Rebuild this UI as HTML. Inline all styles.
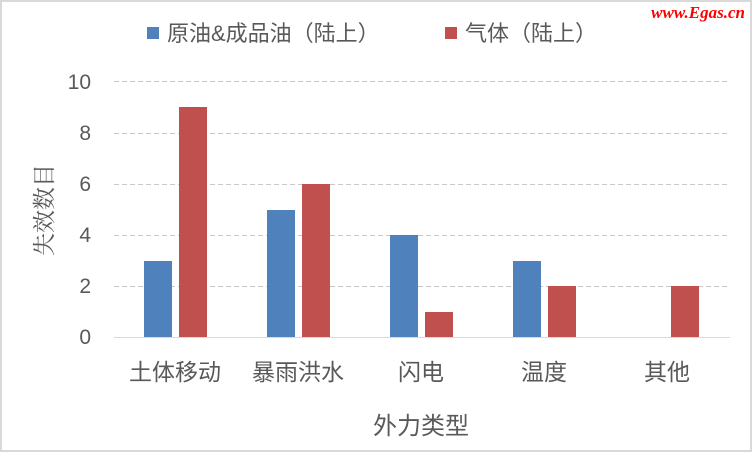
<!DOCTYPE html>
<html><head><meta charset="utf-8"><style>
body{margin:0;background:#fff}
svg text{font-family:"Liberation Sans","Noto Sans CJK SC",sans-serif}
</style></head><body>
<svg width="752" height="452" viewBox="0 0 752 452" xmlns="http://www.w3.org/2000/svg">
<rect x="1" y="1" width="750" height="450" fill="#fff" stroke="#d9d9d9" stroke-width="2"/>
<text x="745" y="18" text-anchor="end" font-size="17" font-style="italic" font-weight="bold" fill="#f00" style="font-family:'Liberation Serif',serif">www.Egas.cn</text>
<rect x="147" y="27" width="12" height="12" fill="#4f81bd"/>
<text x="167" y="41" font-size="22" fill="#595959">原油&amp;成品油（陆上）</text>
<rect x="445" y="27" width="12" height="12" fill="#c0504d"/>
<text x="465" y="41" font-size="22" fill="#595959">气体（陆上）</text>
<g stroke="#c8c8c8" stroke-dasharray="5,3" stroke-width="1">
<line x1="114" x2="730" y1="81.5" y2="81.5"/><line x1="114" x2="730" y1="133.5" y2="133.5"/>
<line x1="114" x2="730" y1="184.5" y2="184.5"/><line x1="114" x2="730" y1="235.5" y2="235.5"/>
<line x1="114" x2="730" y1="286.5" y2="286.5"/></g>
<line x1="114" x2="730" y1="337.5" y2="337.5" stroke="#d9d9d9"/>
<g font-size="21" fill="#595959" text-anchor="end">
<text x="91" y="89">10</text><text x="91" y="140">8</text><text x="91" y="191">6</text>
<text x="91" y="242">4</text><text x="91" y="293">2</text><text x="91" y="344">0</text></g>
<g fill="#4f81bd">
<rect x="144" y="261" width="28" height="76"/><rect x="267" y="210" width="28" height="127"/>
<rect x="390" y="235" width="28" height="102"/><rect x="513" y="261" width="28" height="76"/></g>
<g fill="#c0504d">
<rect x="179" y="107" width="28" height="230"/><rect x="302" y="184" width="28" height="153"/>
<rect x="425" y="312" width="28" height="25"/><rect x="548" y="286" width="28" height="51"/>
<rect x="671" y="286" width="28" height="51"/></g>
<g font-size="23" fill="#595959" text-anchor="middle">
<text x="175" y="380">土体移动</text><text x="298" y="380">暴雨洪水</text>
<text x="421" y="380">闪电</text><text x="544" y="380">温度</text><text x="667" y="380">其他</text>
<text x="421" y="434" font-size="24">外力类型</text>
<text transform="translate(52,210) rotate(-90)" style="font-family:'Noto Serif CJK SC',serif">失效数目</text></g>
</svg>
</body></html>
